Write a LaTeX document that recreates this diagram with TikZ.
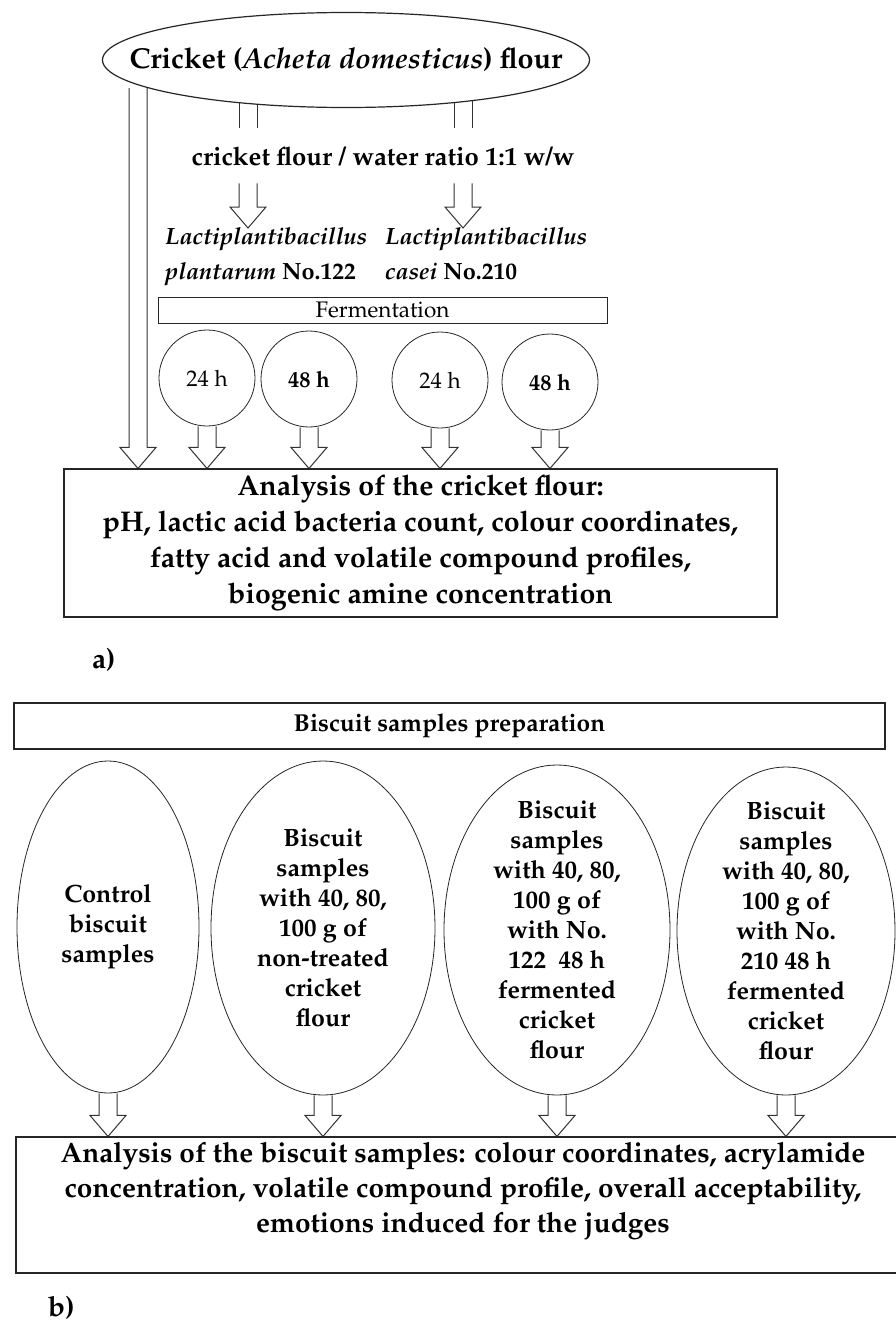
\documentclass[tikz,border=0pt]{standalone}
\usepackage[T1]{fontenc}
\usepackage{mathpazo}
\usetikzlibrary{shapes.geometric,calc,backgrounds}
\newcommand{\fhead}{\fontsize{28.8}{36}\selectfont\bfseries}
\newcommand{\fratio}{\fontsize{25.7}{30}\selectfont\bfseries}
\newcommand{\flacti}{\fontsize{23.5}{35}\selectfont\bfseries}
\newcommand{\fplain}{\fontsize{22.5}{26}\selectfont}
\newcommand{\fboxa}{\fontsize{28.5}{36}\selectfont\bfseries}
\newcommand{\fboxb}{\fontsize{28}{35}\selectfont\bfseries}
\newcommand{\foval}{\fontsize{25}{30}\selectfont\bfseries}
\newcommand{\fprep}{\fontsize{24.5}{30}\selectfont\bfseries}
\newcommand{\flabel}{\fontsize{28}{34}\selectfont\bfseries}
\tikzset{
    hollow/.style={line width=1pt,draw=black!80,
        to path={let \p1=(\tikztostart), \p2=(\tikztotarget) in
            (\x1-9pt,\y1) -- (\x1-9pt,\y2+21pt) -- (\x1-18pt,\y2+21pt) -- (\x1,\y2)
            -- (\x1+18pt,\y2+21pt) -- (\x1+9pt,\y2+21pt) -- (\x1+9pt,\y1)}},
    stem/.style={line width=1pt,draw=black!80,
        to path={let \p1=(\tikztostart), \p2=(\tikztotarget) in
            (\x1-9pt,\y1) -- (\x1-9pt,\y2) (\x1+9pt,\y1) -- (\x1+9pt,\y2)}},
    oval/.style={draw=black!85,ellipse,fill=white,line width=0.8pt,inner xsep=-20pt,inner ysep=-60pt,
        align=center,font=\foval},
    hour/.style={draw=black!85,circle,fill=white,line width=0.8pt,minimum size=96pt,inner sep=0pt,font=\fplain},
    box/.style={draw=black!85,rectangle,fill=white,line width=1.1pt,inner sep=0pt},
}
\begin{document}
\begin{tikzpicture}[x=1pt,y=1pt]
\useasboundingbox (0,0) rectangle (895,-1325);

% a) fermentation of the flour
\node [oval,line width=1.2pt,inner xsep=-55pt,inner ysep=0pt,minimum width=487pt,minimum height=95pt,font=\fhead]
      (cricket) at (346,-60) {Cricket (\textit{Acheta domesticus}) flour};
\node [inner xsep=0pt,inner ysep=18pt,anchor=base,font=\fratio] (ratio) at (383,-165)
      {cricket flour / water ratio 1:1 w/w};
\node [inner sep=0pt,anchor=north west,align=left,font=\flacti] (plant) at (165,-228)
      {\textit{Lactiplantibacillus}\\\textit{plantarum} No.122};
\node [inner sep=0pt,anchor=north west,align=left,font=\flacti] (casei) at (385,-228)
      {\textit{Lactiplantibacillus}\\\textit{casei} No.210};
\node [box,line width=1pt,minimum width=449pt,minimum height=26pt,font=\fplain] (ferm) at (382.5,-310)
      {Fermentation};
\node [hour] (p24) at (207,-378) {24 h};
\node [hour] (p48) at (309,-379) {\bfseries 48 h};
\node [hour] (k24) at (440,-380) {24 h};
\node [hour] (k48) at (550,-382) {\bfseries 48 h};
\node [box,minimum width=713pt,minimum height=148pt,align=center,font=\fboxa] (anaA) at (420.5,-543)
      {Analysis of the cricket flour:\\pH, lactic acid bacteria count, colour coordinates,\\
       fatty acid and volatile compound profiles,\\biogenic amine concentration};
\node [anchor=base west,inner sep=0pt,font=\flabel] (labA) at (92,-668) {a)};

% b) biscuits
\node [box,minimum width=871pt,minimum height=46pt,font=\fprep] (prep) at (449.5,-726)
      {Biscuit samples preparation};
\node [oval,minimum width=182pt,minimum height=332pt] (ctrl) at (108,-927)
      {Control\\biscuit\\samples};
\node [oval,minimum width=224pt,minimum height=334pt] (raw) at (323,-928)
      {Biscuit\\samples\\with 40, 80,\\100 g of\\non-treated\\cricket\\flour};
\node [oval,minimum width=226pt,minimum height=330pt] (f122) at (557,-930)
      {Biscuit\\samples\\with 40, 80,\\100 g of\\with No.\\122~ 48 h\\fermented\\cricket\\flour};
\node [oval,minimum width=218pt,minimum height=328pt] (f210) at (786,-931)
      {Biscuit\\samples\\with 40, 80,\\100 g of\\with No.\\210 48 h\\fermented\\cricket\\flour};
\node [box,minimum width=889pt,minimum height=136pt] (anaB) at (460.5,-1205) {};
\node [align=center,inner sep=0pt,font=\fboxb] (anaBtext) at (463,-1191)
      {Analysis of the biscuit samples: colour coordinates, acrylamide\\
       concentration, volatile compound profile, overall acceptability,\\
       emotions induced for the judges};
\node [anchor=base west,inner sep=0pt,font=\flabel] (labB) at (48,-1316) {b)};

% hollow arrows behind the shapes
\coordinate (lf) at (138,-88);
\coordinate (pl) at (248,-100);
\coordinate (ca) at (463,-100);
\begin{pgfonlayer}{background}
\fill [white] (0,0) rectangle (895,-1325);
\draw [hollow] (lf) to (lf |- anaA.north);
\draw [stem] (pl) to (pl |- ratio.north);
\draw [stem] (ca) to (ca |- ratio.north);
\draw [hollow] (pl |- ratio.south) to (pl |- plant.north);
\draw [hollow] (ca |- ratio.south) to (ca |- casei.north);
\foreach \t in {p24,p48,k24,k48}
    \draw [hollow] (\t.south) to (\t.south |- anaA.north);
\foreach \t in {ctrl,raw,f122,f210}
    \draw [hollow] (\t.south) to (\t.south |- anaB.north);
\end{pgfonlayer}

\end{tikzpicture}
\end{document}
